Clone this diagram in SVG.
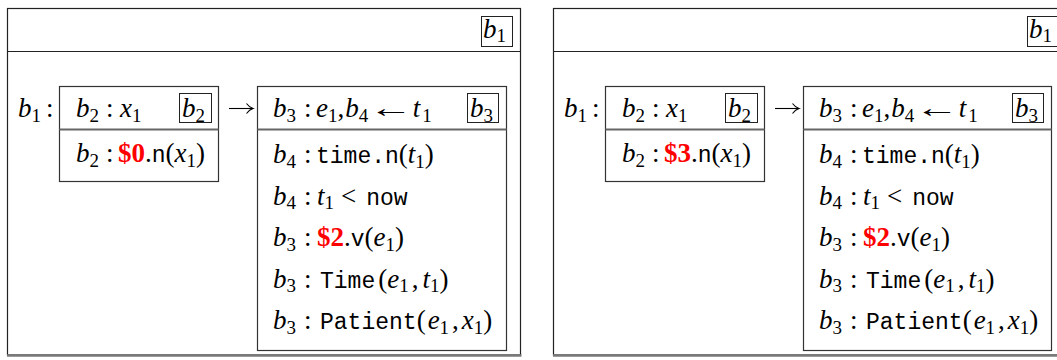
<svg xmlns="http://www.w3.org/2000/svg" width="1057" height="360" viewBox="0 0 1057 360">
<defs>
<marker id="head" markerUnits="userSpaceOnUse" markerWidth="10" markerHeight="12" refX="8" refY="6" orient="auto">
<path d="M1.5,1 Q4.5,5 8,6 Q4.5,7 1.5,11" fill="none" stroke="#000" stroke-width="1.1"/>
</marker>
</defs>
<style>
text{fill:#000}
.m{font-family:"Liberation Serif",serif;font-style:italic;font-size:27px}
.s{font-family:"Liberation Serif",serif;font-style:normal;font-size:19px}
.r{font-family:"Liberation Serif",serif;font-style:normal;font-size:27px}
.t{font-family:"Liberation Mono",monospace;font-style:normal;font-size:23px}
.d{font-family:"Liberation Serif",serif;font-style:normal;font-weight:bold;font-size:27px;fill:#ff0000}
.frame{fill:#fff;stroke:#222;stroke-width:1.2}
.box{fill:#fff;stroke:#333;stroke-width:1.2}
.tag{fill:none;stroke:#222;stroke-width:1}
.div{stroke:#222;stroke-width:1.2}
.idiv{stroke:#666;stroke-width:1.8}
.shadow{stroke:#7a7a7a;stroke-width:2.5}
.conn{fill:none;stroke:#000;stroke-width:1.1;marker-end:url(#head)}
</style>

<!-- LEFT PANEL -->
<g id="left-panel">
  <g id="L-frame">
    <rect class="frame" x="7.5" y="8.5" width="513" height="346.5"/>
    <line class="div" x1="7.5" y1="51.5" x2="520.5" y2="51.5"/>
    <line class="shadow" x1="7" y1="355.5" x2="521.5" y2="355.5"/>
  </g>
  <g id="L-b1-tag">
    <rect class="tag" x="481.5" y="16.5" width="31" height="30"/>
    <text y="37.5"><tspan class="m" x="483">b</tspan><tspan class="s" dy="4.5">1</tspan></text>
  </g>
  <g id="L-label">
    <text y="117"><tspan class="m" x="18">b</tspan><tspan class="s" dy="4.5">1</tspan><tspan class="r" x="46" dy="-4.5">:</tspan></text>
  </g>
  <g id="L-boxA">
    <rect class="box" x="59.5" y="86.5" width="159" height="95"/>
    <line class="idiv" x1="59.5" y1="129.5" x2="218.5" y2="129.5"/>
    <text y="117"><tspan class="m" x="76">b</tspan><tspan class="s" dy="4.5">2</tspan><tspan class="r" x="106" dy="-4.5">:</tspan><tspan class="m" x="120">x</tspan><tspan class="s" dy="4.5">1</tspan></text>
    <rect class="tag" x="179.5" y="93.5" width="32" height="29"/>
    <text y="117"><tspan class="m" x="182">b</tspan><tspan class="s" dy="4.5">2</tspan></text>
    <text y="162"><tspan class="m" x="76">b</tspan><tspan class="s" dy="4.5">2</tspan><tspan class="r" x="106" dy="-4.5">:</tspan><tspan class="d" x="118">$0</tspan><tspan class="r">.</tspan><tspan class="t">n</tspan><tspan class="r">(</tspan><tspan class="m">x</tspan><tspan class="s" dy="4.5">1</tspan><tspan class="r" dy="-4.5">)</tspan></text>
  </g>
  <g id="L-boxB">
    <rect class="box" x="257.5" y="86.5" width="249" height="264"/>
    <line class="idiv" x1="257.5" y1="129.5" x2="506.5" y2="129.5"/>
    <text y="117"><tspan class="m" x="273">b</tspan><tspan class="s" dy="4.5">3</tspan><tspan class="r" x="304" dy="-4.5">:</tspan><tspan class="m" x="316">e</tspan><tspan class="s" dy="4.5">1</tspan><tspan class="r" dy="-4.5">,</tspan><tspan class="m" dx="1">b</tspan><tspan class="s" dy="4.5">4</tspan><tspan class="r" dy="-4.5" textLength="44.5" lengthAdjust="spacingAndGlyphs">←</tspan><tspan class="m">t</tspan><tspan class="s" dx="2" dy="4.5">1</tspan></text>
    <rect class="tag" x="467.5" y="93.5" width="31" height="29"/>
    <text y="117"><tspan class="m" x="470">b</tspan><tspan class="s" dy="4.5">3</tspan></text>
    <text y="163"><tspan class="m" x="273">b</tspan><tspan class="s" dy="4.5">4</tspan><tspan class="r" x="304" dy="-4.5">:</tspan><tspan class="t" x="316">time.n</tspan><tspan class="r">(</tspan><tspan class="m">t</tspan><tspan class="s" dy="4.5">1</tspan><tspan class="r" dy="-4.5">)</tspan></text>
    <text y="204.5"><tspan class="m" x="273">b</tspan><tspan class="s" dy="4.5">4</tspan><tspan class="r" x="304" dy="-4.5">:</tspan><tspan class="m" x="317">t</tspan><tspan class="s" dy="4.5">1</tspan><tspan class="r" dx="7" dy="-4.5">&lt;</tspan><tspan class="t" dx="10">now</tspan></text>
    <text y="246"><tspan class="m" x="273">b</tspan><tspan class="s" dy="4.5">3</tspan><tspan class="r" x="304" dy="-4.5">:</tspan><tspan class="d" x="317">$2</tspan><tspan class="r">.</tspan><tspan class="t">v</tspan><tspan class="r">(</tspan><tspan class="m">e</tspan><tspan class="s" dy="4.5">1</tspan><tspan class="r" dy="-4.5">)</tspan></text>
    <text y="287.5"><tspan class="m" x="273">b</tspan><tspan class="s" dy="4.5">3</tspan><tspan class="r" x="304" dy="-4.5">:</tspan><tspan class="t" x="320">Time</tspan><tspan class="r" dx="3">(</tspan><tspan class="m">e</tspan><tspan class="s" dy="4.5">1</tspan><tspan class="r" dx="3" dy="-4.5">,</tspan><tspan class="m" dx="4">t</tspan><tspan class="s" dy="4.5">1</tspan><tspan class="r" dy="-4.5">)</tspan></text>
    <text y="329"><tspan class="m" x="273">b</tspan><tspan class="s" dy="4.5">3</tspan><tspan class="r" x="304" dy="-4.5">:</tspan><tspan class="t" x="320">Patient</tspan><tspan class="r">(</tspan><tspan class="m" dx="2">e</tspan><tspan class="s" dy="4.5">1</tspan><tspan class="r" dx="3" dy="-4.5">,</tspan><tspan class="m" dx="3">x</tspan><tspan class="s" dy="4.5">1</tspan><tspan class="r" dy="-4.5">)</tspan></text>
  </g>
</g>

<!-- RIGHT PANEL -->
<g id="right-panel" transform="translate(546,0)">
  <g id="R-frame">
    <rect class="frame" x="7.5" y="8.5" width="513" height="346.5"/>
    <line class="div" x1="7.5" y1="51.5" x2="520.5" y2="51.5"/>
    <line class="shadow" x1="7" y1="355.5" x2="521.5" y2="355.5"/>
  </g>
  <g id="R-b1-tag">
    <rect class="tag" x="481.5" y="16.5" width="31" height="30"/>
    <text y="37.5"><tspan class="m" x="483">b</tspan><tspan class="s" dy="4.5">1</tspan></text>
  </g>
  <g id="R-label">
    <text y="117"><tspan class="m" x="18">b</tspan><tspan class="s" dy="4.5">1</tspan><tspan class="r" x="46" dy="-4.5">:</tspan></text>
  </g>
  <g id="R-boxA">
    <rect class="box" x="59.5" y="86.5" width="159" height="95"/>
    <line class="idiv" x1="59.5" y1="129.5" x2="218.5" y2="129.5"/>
    <text y="117"><tspan class="m" x="76">b</tspan><tspan class="s" dy="4.5">2</tspan><tspan class="r" x="106" dy="-4.5">:</tspan><tspan class="m" x="120">x</tspan><tspan class="s" dy="4.5">1</tspan></text>
    <rect class="tag" x="179.5" y="93.5" width="32" height="29"/>
    <text y="117"><tspan class="m" x="182">b</tspan><tspan class="s" dy="4.5">2</tspan></text>
    <text y="162"><tspan class="m" x="76">b</tspan><tspan class="s" dy="4.5">2</tspan><tspan class="r" x="106" dy="-4.5">:</tspan><tspan class="d" x="118">$3</tspan><tspan class="r">.</tspan><tspan class="t">n</tspan><tspan class="r">(</tspan><tspan class="m">x</tspan><tspan class="s" dy="4.5">1</tspan><tspan class="r" dy="-4.5">)</tspan></text>
  </g>
  <g id="R-boxB">
    <rect class="box" x="257.5" y="86.5" width="248" height="264"/>
    <line class="idiv" x1="257.5" y1="129.5" x2="505.5" y2="129.5"/>
    <text y="117"><tspan class="m" x="273">b</tspan><tspan class="s" dy="4.5">3</tspan><tspan class="r" x="304" dy="-4.5">:</tspan><tspan class="m" x="316">e</tspan><tspan class="s" dy="4.5">1</tspan><tspan class="r" dy="-4.5">,</tspan><tspan class="m" dx="1">b</tspan><tspan class="s" dy="4.5">4</tspan><tspan class="r" dy="-4.5" textLength="44.5" lengthAdjust="spacingAndGlyphs">←</tspan><tspan class="m">t</tspan><tspan class="s" dx="2" dy="4.5">1</tspan></text>
    <rect class="tag" x="466.5" y="93.5" width="31" height="29"/>
    <text y="117"><tspan class="m" x="469">b</tspan><tspan class="s" dy="4.5">3</tspan></text>
    <text y="163"><tspan class="m" x="273">b</tspan><tspan class="s" dy="4.5">4</tspan><tspan class="r" x="304" dy="-4.5">:</tspan><tspan class="t" x="316">time.n</tspan><tspan class="r">(</tspan><tspan class="m">t</tspan><tspan class="s" dy="4.5">1</tspan><tspan class="r" dy="-4.5">)</tspan></text>
    <text y="204.5"><tspan class="m" x="273">b</tspan><tspan class="s" dy="4.5">4</tspan><tspan class="r" x="304" dy="-4.5">:</tspan><tspan class="m" x="317">t</tspan><tspan class="s" dy="4.5">1</tspan><tspan class="r" dx="7" dy="-4.5">&lt;</tspan><tspan class="t" dx="10">now</tspan></text>
    <text y="246"><tspan class="m" x="273">b</tspan><tspan class="s" dy="4.5">3</tspan><tspan class="r" x="304" dy="-4.5">:</tspan><tspan class="d" x="317">$2</tspan><tspan class="r">.</tspan><tspan class="t">v</tspan><tspan class="r">(</tspan><tspan class="m">e</tspan><tspan class="s" dy="4.5">1</tspan><tspan class="r" dy="-4.5">)</tspan></text>
    <text y="287.5"><tspan class="m" x="273">b</tspan><tspan class="s" dy="4.5">3</tspan><tspan class="r" x="304" dy="-4.5">:</tspan><tspan class="t" x="320">Time</tspan><tspan class="r" dx="3">(</tspan><tspan class="m">e</tspan><tspan class="s" dy="4.5">1</tspan><tspan class="r" dx="3" dy="-4.5">,</tspan><tspan class="m" dx="4">t</tspan><tspan class="s" dy="4.5">1</tspan><tspan class="r" dy="-4.5">)</tspan></text>
    <text y="329"><tspan class="m" x="273">b</tspan><tspan class="s" dy="4.5">3</tspan><tspan class="r" x="304" dy="-4.5">:</tspan><tspan class="t" x="320">Patient</tspan><tspan class="r">(</tspan><tspan class="m" dx="2">e</tspan><tspan class="s" dy="4.5">1</tspan><tspan class="r" dx="3" dy="-4.5">,</tspan><tspan class="m" dx="3">x</tspan><tspan class="s" dy="4.5">1</tspan><tspan class="r" dy="-4.5">)</tspan></text>
  </g>
</g>

<g id="connectors">
  <path class="conn" d="M229,108.5 H253"/>
  <path class="conn" d="M775,108.5 H799"/>
</g>
</svg>
